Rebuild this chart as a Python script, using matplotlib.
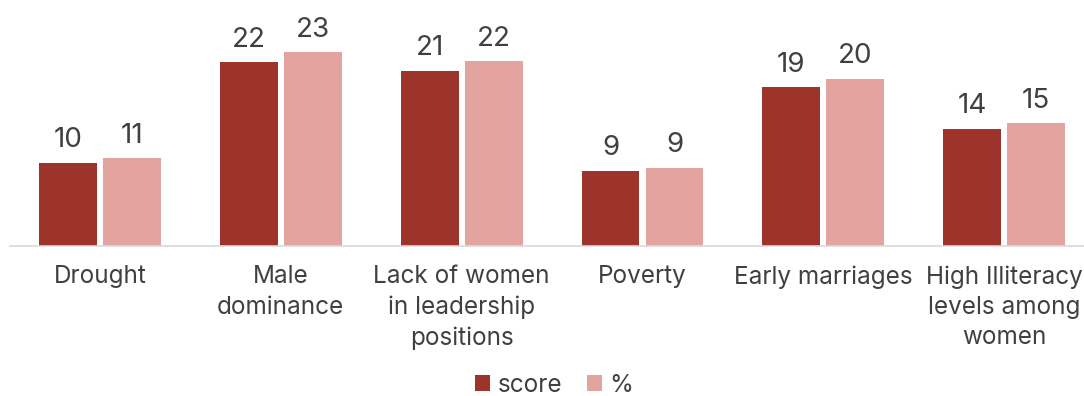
import numpy as np
import matplotlib.pyplot as plt

CATEGORIES = ["Drought", "Male\ndominance", "Lack of women\nin leadership\npositions",
              "Poverty", "Early marriages", "High Illiteracy\nlevels among\nwomen"]
SCORE = [10, 22, 21, 9, 19, 14]
PERCENT = [10.5, 23.2, 22.1, 9.4, 20.0, 14.7]

plt.rcParams['font.family'] = ['Inter', 'DejaVu Sans']
TXT = '#404040'

fig = plt.figure(figsize=(10.84, 3.96), dpi=100)
ax = fig.add_axes([9.6 / 1084, 150 / 396, 1085 / 1084, 246 / 396])

x = np.arange(len(CATEGORIES))
w = 0.32
off = 0.177
b1 = ax.bar(x - off, SCORE, w, color='#9C342B', label='score')
b2 = ax.bar(x + off, PERCENT, w, color='#E3A39E', label='%')

for bars, vals in ((b1, SCORE), (b2, PERCENT)):
    for r, v in zip(bars, vals):
        ax.annotate(str(int(round(v + 1e-9))), (r.get_x() + r.get_width() / 2, r.get_height()),
                    xytext=(0, 7), textcoords='offset points',
                    ha='center', va='bottom', fontsize=20, color=TXT)

ax.set_xlim(-0.5, len(CATEGORIES) - 0.5)
ax.set_ylim(0, 246 / 8.35)
ax.set_yticks([])
ax.set_xticks(x)
ax.set_xticklabels(CATEGORIES, fontsize=17.5, color=TXT, linespacing=1.4)
ax.tick_params(axis='x', length=0, pad=14)
for s in ['top', 'right', 'left']:
    ax.spines[s].set_visible(False)
ax.spines['bottom'].set_color('#D9D9D9')
ax.spines['bottom'].set_linewidth(1.2)

leg = fig.legend(loc='center', bbox_to_anchor=(554 / 1084, 1 - 385 / 396), ncol=2,
                 frameon=False, fontsize=17.5, handlelength=0.65, handleheight=0.65,
                 handletextpad=0.3, columnspacing=1.0)
for t in leg.get_texts():
    t.set_color(TXT)

fig.savefig('out.png', dpi=100)
